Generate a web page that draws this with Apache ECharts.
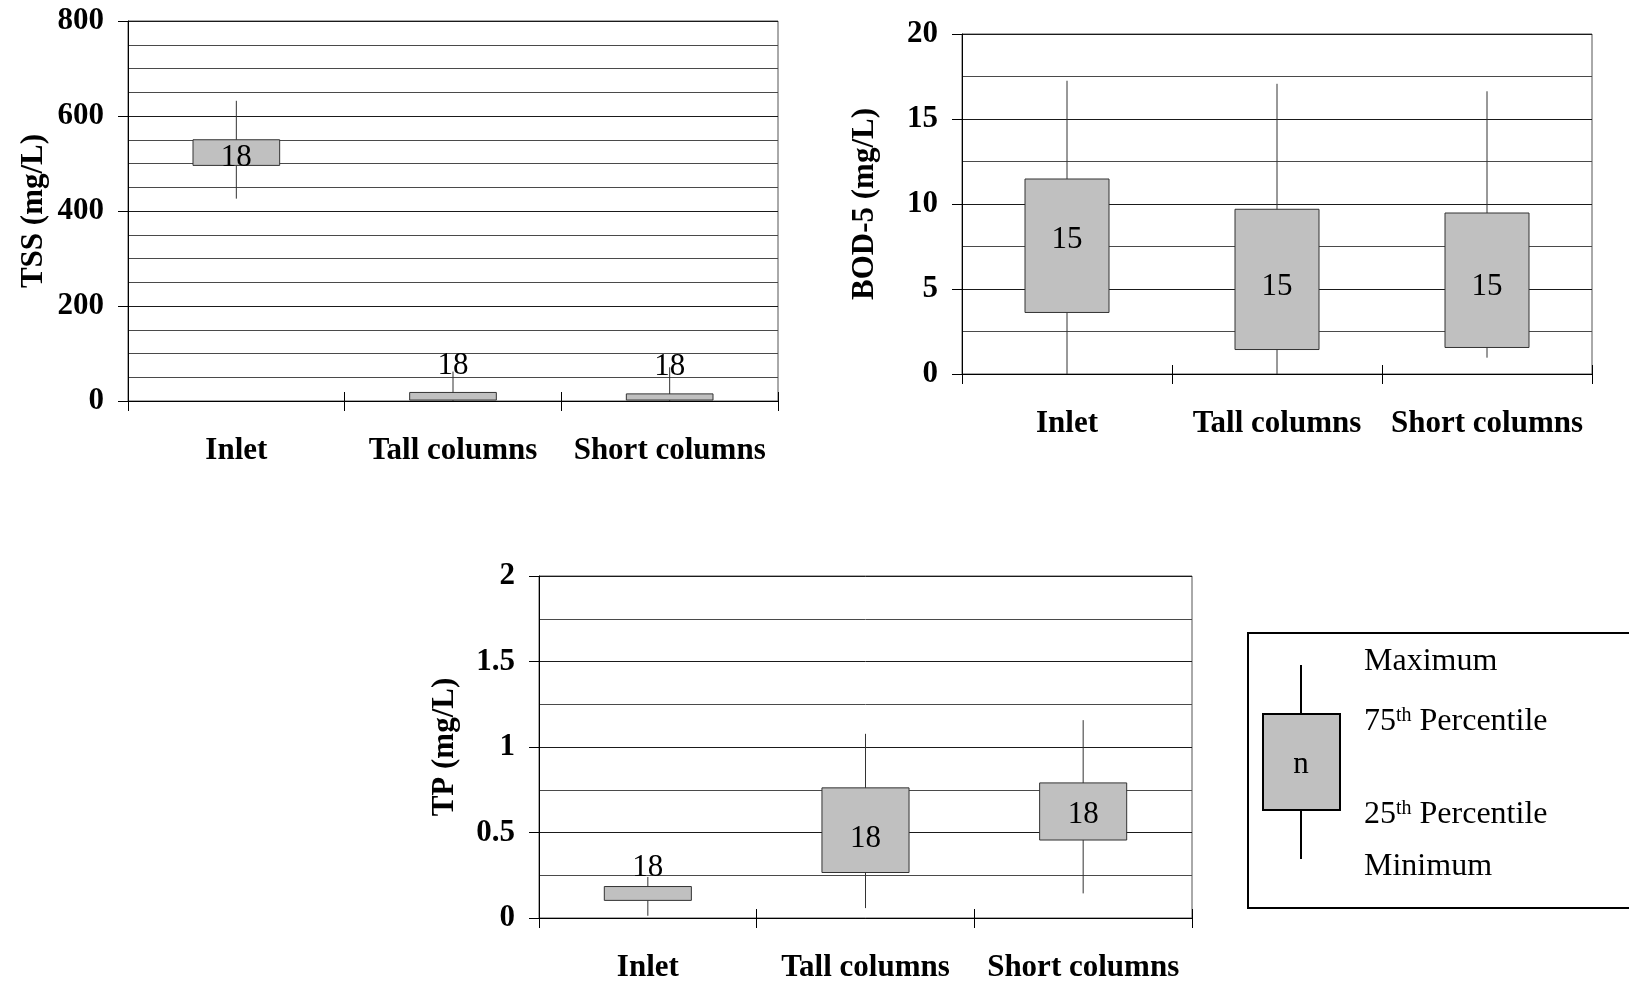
<!DOCTYPE html>
<html>
<head>
<meta charset="utf-8">
<script src="https://cdn.jsdelivr.net/npm/echarts@6/dist/echarts.min.js"></script>
<style>
html,body{margin:0;padding:0;background:#fff;}
#chart{width:1629px;height:984px;}
</style>
</head>
<body>
<div id="chart"></div>
<script>
// ---- data ----
const categories = ['Inlet', 'Tall columns', 'Short columns'];

// TSS (mg/L)
const tssMin = [426, 0, 0];
const tssQ1  = [496, 2, 2];
const tssQ3  = [550, 18, 15];
const tssMax = [632, 62, 71];
const tssN   = [18, 18, 18];
const tssNAt = [511, 74, 72];

// BOD-5 (mg/L)
const bodMin = [0, 0, 0.96];
const bodQ1  = [3.62, 1.44, 1.56];
const bodQ3  = [11.47, 9.69, 9.47];
const bodMax = [17.25, 17.07, 16.63];
const bodN   = [15, 15, 15];
const bodNAt = [7.9, 5.12, 5.12];

// TP (mg/L)
const tpMin = [0.013, 0.058, 0.144];
const tpQ1  = [0.103, 0.266, 0.456];
const tpQ3  = [0.184, 0.761, 0.79];
const tpMax = [0.24, 1.077, 1.157];
const tpN   = [18, 18, 18];
const tpNAt = [0.295, 0.464, 0.605];

const tssTicks = [0, 800, 200];
const bodTicks = [0, 20, 5];
const tpTicks  = [0, 2, 0.5];

// ---- helpers ----
const SERIF = '"Liberation Serif", "Times New Roman", serif';

function buildData(mn, q1, q3, mx, at, n) {
  return categories.map((c, i) => [i, mn[i], q1[i], q3[i], mx[i], at[i], n[i]]);
}

function renderBox(params, api) {
  const i = api.value(0);
  const pMin = api.coord([i, api.value(1)]);
  const pQ1 = api.coord([i, api.value(2)]);
  const pQ3 = api.coord([i, api.value(3)]);
  const pMax = api.coord([i, api.value(4)]);
  const pLab = api.coord([i, api.value(5)]);
  const band = api.size([1, 0])[0];
  const w = band * 0.4;
  const x = pQ1[0];
  return {
    type: 'group',
    children: [
      { type: 'line', shape: { x1: x, y1: pMin[1], x2: x, y2: pMax[1] },
        style: { stroke: '#333', lineWidth: 1 } },
      { type: 'rect', shape: { x: x - w / 2, y: pQ3[1], width: w, height: pQ1[1] - pQ3[1] },
        style: { fill: '#c0c0c0', stroke: '#333', lineWidth: 1 } },
      { type: 'text', x: x, y: pLab[1],
        style: { text: String(api.value(6)), fill: '#000', font: 'normal 31px ' + SERIF,
                 textAlign: 'center', textVerticalAlign: 'middle' } }
    ]
  };
}

const labelStyle = { fontFamily: SERIF, fontWeight: 'bold', fontSize: 31, color: '#000' };

function xAxisMain(gi) {
  return {
    type: 'category', gridIndex: gi, data: categories, boundaryGap: true,
    axisLine: { show: true, lineStyle: { color: '#000', width: 1 } },
    axisTick: { show: true, length: 10, lineStyle: { color: '#000' } },
    axisLabel: Object.assign({ margin: 34, interval: 0 }, labelStyle),
    splitLine: { show: false }
  };
}
function xAxisInner(gi) {
  return {
    type: 'category', gridIndex: gi, data: categories, boundaryGap: true, position: 'bottom',
    axisLine: { show: false },
    axisTick: { show: true, inside: true, length: 9, lineStyle: { color: '#000' } },
    axisLabel: { show: false },
    splitLine: { show: false }
  };
}
function yAxis(gi, ticks, name, minorN, gap) {
  return {
    type: 'value', gridIndex: gi, min: ticks[0], max: ticks[1], interval: ticks[2],
    name: name, nameLocation: 'middle', nameGap: gap, nameRotate: 90,
    nameTextStyle: labelStyle,
    axisLine: { show: true, lineStyle: { color: '#000', width: 1 } },
    axisTick: { show: true, length: 10, lineStyle: { color: '#000' } },
    axisLabel: Object.assign({ margin: 24 }, labelStyle),
    splitLine: { show: true, lineStyle: { color: '#1a1a1a', width: 1 } },
    minorTick: { show: false, splitNumber: minorN },
    minorSplitLine: { show: true, lineStyle: { color: '#4a4a4a', width: 1 } }
  };
}

const grids = [
  { left: 128, top: 21, width: 650, height: 380 },
  { left: 962, top: 34, width: 630, height: 340 },
  { left: 539, top: 576, width: 653, height: 342 }
].map(g => Object.assign(g, { show: true, borderColor: '#555', borderWidth: 1, backgroundColor: 'transparent' }));

// legend graphic
const LEG_FONT = 'normal 32px ' + SERIF;
const SUP_FONT = 'normal 20px ' + SERIF;
const legendGraphic = [
  { type: 'rect', shape: { x: 1248, y: 633, width: 420, height: 275 },
    style: { fill: '#fff', stroke: '#000', lineWidth: 2 }, z: 10 },
  { type: 'line', shape: { x1: 1301, y1: 665, x2: 1301, y2: 714 }, style: { stroke: '#000', lineWidth: 2 }, z: 11 },
  { type: 'line', shape: { x1: 1301, y1: 810, x2: 1301, y2: 859 }, style: { stroke: '#000', lineWidth: 2 }, z: 11 },
  { type: 'rect', shape: { x: 1263, y: 714, width: 77, height: 96 },
    style: { fill: '#c0c0c0', stroke: '#000', lineWidth: 2 }, z: 11 },
  { type: 'text', x: 1301, y: 765, z: 12,
    style: { text: 'n', font: 'normal 31px ' + SERIF, fill: '#000', textAlign: 'center', textVerticalAlign: 'middle' } },
  { type: 'text', x: 1364, y: 662, z: 12,
    style: { text: 'Maximum', font: LEG_FONT, fill: '#000', textAlign: 'left', textVerticalAlign: 'middle' } },
  { type: 'text', x: 1364, y: 722, z: 12,
    style: { text: '{n|75}{s|th}{n| Percentile}', fill: '#000', textAlign: 'left', textVerticalAlign: 'middle',
      rich: { n: { font: LEG_FONT, fill: '#000' },
              s: { font: SUP_FONT, fill: '#000', verticalAlign: 'top' } } } },
  { type: 'text', x: 1364, y: 815, z: 12,
    style: { text: '{n|25}{s|th}{n| Percentile}', fill: '#000', textAlign: 'left', textVerticalAlign: 'middle',
      rich: { n: { font: LEG_FONT, fill: '#000' },
              s: { font: SUP_FONT, fill: '#000', verticalAlign: 'top' } } } },
  { type: 'text', x: 1364, y: 867, z: 12,
    style: { text: 'Minimum', font: LEG_FONT, fill: '#000', textAlign: 'left', textVerticalAlign: 'middle' } }
];

const option = {
  animation: false,
  backgroundColor: '#fff',
  grid: grids,
  xAxis: [xAxisMain(0), xAxisMain(1), xAxisMain(2), xAxisInner(0), xAxisInner(1), xAxisInner(2)],
  yAxis: [
    yAxis(0, tssTicks, 'TSS (mg/L)', 4, 79),
    yAxis(1, bodTicks, 'BOD-5 (mg/L)', 2, 82),
    yAxis(2, tpTicks, 'TP (mg/L)', 2, 79)
  ],
  series: [
    { type: 'custom', xAxisIndex: 0, yAxisIndex: 0, renderItem: renderBox, clip: false,
      encode: { x: 0, y: [1, 2, 3, 4, 5] }, data: buildData(tssMin, tssQ1, tssQ3, tssMax, tssNAt, tssN) },
    { type: 'custom', xAxisIndex: 1, yAxisIndex: 1, renderItem: renderBox, clip: false,
      encode: { x: 0, y: [1, 2, 3, 4, 5] }, data: buildData(bodMin, bodQ1, bodQ3, bodMax, bodNAt, bodN) },
    { type: 'custom', xAxisIndex: 2, yAxisIndex: 2, renderItem: renderBox, clip: false,
      encode: { x: 0, y: [1, 2, 3, 4, 5] }, data: buildData(tpMin, tpQ1, tpQ3, tpMax, tpNAt, tpN) }
  ],
  graphic: legendGraphic
};

const chart = echarts.init(document.getElementById('chart'), null, { renderer: 'canvas' });
chart.setOption(option);
</script>
</body>
</html>
